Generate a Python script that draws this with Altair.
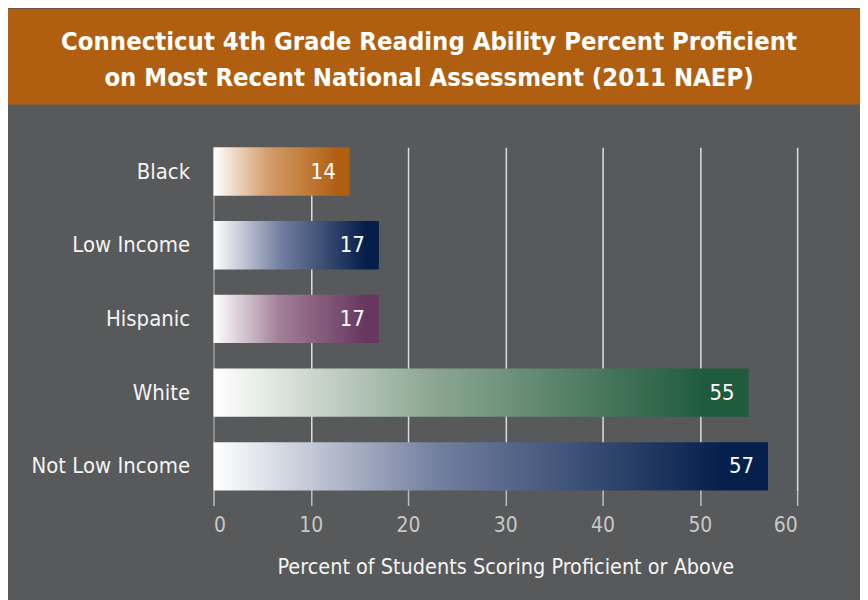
import altair as alt
import pandas as pd

# ---- data ----
categories = ["Black", "Low Income", "Hispanic", "White", "Not Low Income"]
values = [14, 17, 17, 55, 57]
bar_colors = ["#b05e0f", "#051f4a", "#67375f", "#1f5b3c", "#05204c"]
bar_mid_colors = ["#d49c6a", "#7480a0", "#a27e98", "#8ea893", "#7480a0"]
x_ticks = [0, 10, 20, 30, 40, 50, 60]
title_lines = [
    "Connecticut 4th Grade Reading Ability Percent Proficient",
    "on Most Recent National Assessment (2011 NAEP)",
]
x_title = "Percent of Students Scoring Proficient or Above"

# ---- style ----
BG = "#58595b"
BANNER = "#b05e0f"
FONT = "DejaVu Sans Condensed, Liberation Sans Narrow, sans-serif"

W, H = 585, 344          # plot area
LEFT, TOP = 206, 139     # plot offset from chart origin
TOTAL_W = 854
BANNER_H = 96

df = pd.DataFrame({"category": categories, "value": values})

y_enc = alt.Y(
    "category:N",
    scale=alt.Scale(domain=categories, paddingInner=0.345, paddingOuter=0),
    axis=alt.Axis(
        title=None, domain=False, ticks=False, labelPadding=24,
        labelFontSize=22, labelColor="#f4f4f4", labelFont=FONT,
    ),
)
x_enc = alt.X(
    "value:Q",
    scale=alt.Scale(domain=[0, 60], nice=False),
    axis=alt.Axis(
        values=x_ticks, title=x_title, format="d",
        grid=True,
        gridColor={"condition": {"test": "datum.value === 0", "value": "#a0a0a0"}, "value": "#dcdcdc"},
        gridWidth=1.5, domain=False,
        tickSize=15, tickColor="#bdbdbd", tickWidth=1.5,
        labelFont=FONT, labelFontSize=21, labelColor="#c8c8c8", labelPadding=9,
        titleFont=FONT, titleFontSize=21.5, titleColor="#f4f4f4",
        titleFontWeight="normal", titlePadding=21,
    ),
)

one = alt.Data(values=[{"k": 1}])

banner = alt.Chart(one).mark_rect(color=BANNER).encode(
    x=alt.value(-LEFT), x2=alt.value(TOTAL_W - LEFT),
    y=alt.value(-TOP), y2=alt.value(-TOP + BANNER_H),
)
title = alt.Chart(one).mark_text(
    text=title_lines, font=FONT, fontSize=25.5, fontWeight="bold",
    lineHeight=36, color="white", align="center", baseline="middle",
).encode(x=alt.value(216), y=alt.value(-106))

bars = []
for cat, col, mid in zip(categories, bar_colors, bar_mid_colors):
    grad = alt.LinearGradient(
        gradient="linear", x1=0, x2=1, y1=0, y2=0,
        stops=[
            alt.GradientStop(offset=0, color="#ffffff"),
            alt.GradientStop(offset=0.4, color=mid),
            alt.GradientStop(offset=0.92, color=col),
            alt.GradientStop(offset=1, color=col),
        ],
    )
    bars.append(
        alt.Chart(df).transform_filter(alt.datum.category == cat)
        .mark_bar(color=grad)
        .encode(x=x_enc, y=y_enc)
    )

labels = alt.Chart(df).mark_text(
    align="right", baseline="middle", dx=-14, font=FONT, fontSize=22, color="white",
).encode(x=x_enc, y=y_enc, text="value:Q")

chart = alt.layer(banner, title, *bars, labels).properties(
    width=W, height=H,
    padding={"left": 0, "top": 0, "right": 0, "bottom": 24},
    background=BG,
).configure_view(stroke=None)

chart.save("out.html", embed_options={"renderer": "svg", "actions": False})
